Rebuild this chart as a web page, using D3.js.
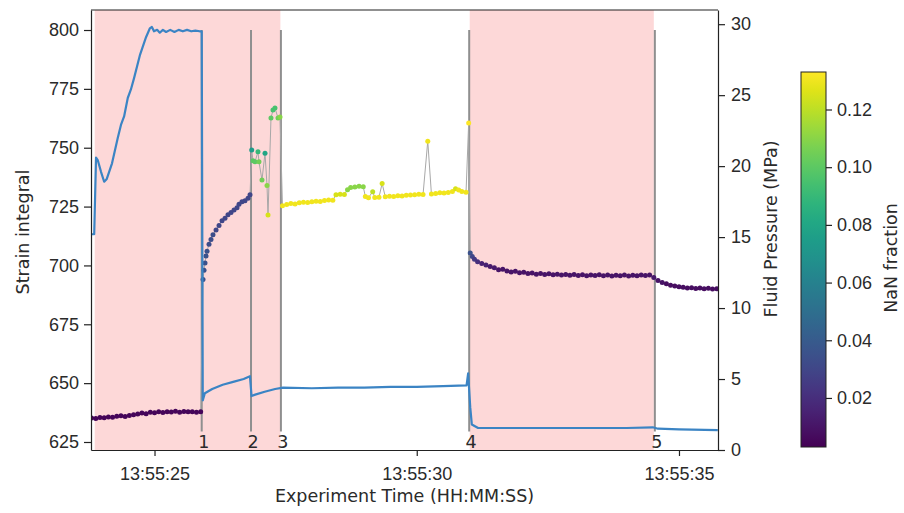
<!DOCTYPE html>
<html>
<head>
<meta charset="utf-8">
<script src="https://cdn.jsdelivr.net/npm/d3@7"></script>
<style>
  body { margin: 0; background: #fff; }
  svg { font-family: "DejaVu Sans", sans-serif; }
  .axis text { font-size: 18px; fill: #2a2a2a; }
  .axis path, .axis line { stroke: #222; stroke-width: 1.2px; }
  .label { font-size: 17.5px; fill: #2a2a2a; }
</style>
</head>
<body>
<svg width="904" height="513"></svg>
<script>
/* data: times are seconds after 13:55:00 */

// shaded intervals [start, end]
var spans = [[23.86, 27.40], [31.01, 34.52]];

// numbered event markers
var eventIds = ["1", "2", "3", "4", "5"];
var eventTimes = [25.90, 26.84, 27.41, 31.00, 34.54];

// fluid pressure (MPa), right axis: [t, p]
var pressure = [
  [23.80, 15.2], [23.85, 15.2], [23.885, 20.6], [23.92, 20.4], [23.98, 19.6],
  [24.04, 18.9], [24.09, 19.1], [24.19, 20.2], [24.30, 22.0], [24.36, 22.9],
  [24.42, 23.5], [24.49, 24.8], [24.55, 25.4], [24.61, 26.2], [24.72, 27.8],
  [24.84, 29.1], [24.91, 29.7], [24.95, 29.8], [24.99, 29.5], [25.05, 29.6],
  [25.10, 29.4], [25.16, 29.6], [25.22, 29.45], [25.30, 29.6], [25.38, 29.45],
  [25.46, 29.6], [25.54, 29.5], [25.62, 29.6], [25.70, 29.5], [25.78, 29.55],
  [25.86, 29.5], [25.90, 29.5], [25.92, 3.5], [25.96, 4.0], [26.10, 4.3],
  [26.30, 4.6], [26.50, 4.8], [26.70, 5.0], [26.82, 5.2], [26.85, 3.8],
  [26.92, 3.9], [27.10, 4.1], [27.30, 4.3], [27.45, 4.4], [28.00, 4.35],
  [28.50, 4.4], [29.00, 4.4], [29.50, 4.45], [30.00, 4.45], [30.50, 4.5],
  [30.95, 4.55], [30.98, 5.4], [31.02, 3.0], [31.05, 1.8], [31.17, 1.55],
  [32.00, 1.55], [33.00, 1.55], [34.00, 1.55], [34.50, 1.6], [34.60, 1.5],
  [35.00, 1.45], [35.74, 1.4]
];

// strain integral, left axis, coloured by NaN fraction: [t, strain, nan]
var strainA = [
  [23.80, 635.2, 0.005], [23.88, 635.0, 0.005], [23.96, 635.4, 0.005], [24.04, 635.3, 0.005],
  [24.12, 635.6, 0.005], [24.20, 635.5, 0.005], [24.28, 635.9, 0.005], [24.36, 636.1, 0.005],
  [24.44, 635.8, 0.005], [24.52, 636.3, 0.005], [24.60, 636.6, 0.005], [24.68, 636.9, 0.005],
  [24.76, 637.3, 0.005], [24.84, 637.0, 0.005], [24.92, 637.6, 0.005], [25.00, 637.4, 0.005],
  [25.08, 637.8, 0.005], [25.16, 637.5, 0.005], [25.24, 637.9, 0.005], [25.32, 637.7, 0.005],
  [25.40, 638.1, 0.005], [25.48, 637.6, 0.005], [25.56, 638.0, 0.005], [25.64, 637.8, 0.005],
  [25.72, 637.9, 0.005], [25.80, 637.6, 0.005], [25.88, 637.9, 0.005]
];

var strainB = [
  [25.925, 694, 0.035], [25.944, 698, 0.035], [25.963, 701, 0.035], [25.982, 704, 0.035],
  [26.001, 706, 0.035], [26.039, 709, 0.033], [26.077, 711, 0.033], [26.115, 713, 0.033],
  [26.173, 715, 0.03], [26.230, 717, 0.03], [26.287, 719, 0.03], [26.344, 720, 0.03],
  [26.401, 721.5, 0.03], [26.459, 722.5, 0.03], [26.516, 723.5, 0.03], [26.573, 724.5, 0.03],
  [26.611, 726, 0.03], [26.668, 727, 0.03], [26.725, 727.5, 0.03], [26.783, 728.5, 0.03],
  [26.821, 730, 0.03]
];

var strainC = [
  [26.853, 749, 0.075], [26.878, 744.5, 0.10], [26.916, 744, 0.10], [26.973, 748.3, 0.09],
  [26.992, 744, 0.105], [27.049, 736.3, 0.105], [27.107, 747.7, 0.08], [27.145, 734, 0.11],
  [27.164, 721.4, 0.125], [27.221, 762.6, 0.10], [27.259, 766, 0.095], [27.297, 766.9, 0.095],
  [27.355, 762.6, 0.105], [27.393, 763, 0.11]
];

var strainD = [
  [27.44, 725.4, 0.13], [27.52, 725.9, 0.13], [27.60, 726.3, 0.13], [27.68, 726.1, 0.13],
  [27.76, 726.6, 0.13], [27.84, 726.8, 0.13], [27.92, 726.7, 0.13], [28.00, 727.1, 0.13],
  [28.08, 727.3, 0.13], [28.16, 727.2, 0.13], [28.24, 727.6, 0.13], [28.32, 727.8, 0.13],
  [28.40, 727.7, 0.13], [28.46, 730.0, 0.125], [28.54, 730.2, 0.125], [28.62, 730.1, 0.125],
  [28.68, 732.2, 0.11], [28.74, 733.1, 0.11], [28.82, 733.3, 0.11], [28.90, 733.6, 0.11],
  [28.98, 733.4, 0.11], [29.02, 729.3, 0.13], [29.08, 728.8, 0.13], [29.16, 731.3, 0.12],
  [29.20, 728.9, 0.13], [29.28, 729.0, 0.13], [29.34, 734.8, 0.125], [29.40, 729.2, 0.13],
  [29.48, 729.4, 0.13], [29.56, 729.3, 0.13], [29.64, 729.6, 0.13], [29.72, 729.5, 0.13],
  [29.80, 729.8, 0.13], [29.88, 729.9, 0.13], [29.96, 730.0, 0.13], [30.04, 730.2, 0.13],
  [30.12, 730.1, 0.13], [30.21, 752.8, 0.13], [30.28, 730.3, 0.13], [30.36, 730.6, 0.13],
  [30.44, 730.9, 0.13], [30.52, 730.8, 0.13], [30.60, 731.0, 0.13], [30.68, 731.4, 0.13],
  [30.74, 732.6, 0.125], [30.80, 732.0, 0.13], [30.86, 731.4, 0.13], [30.94, 731.1, 0.13],
  [30.99, 760.5, 0.133]
];

var strainE = [
  [31.02, 705.3, 0.035], [31.06, 703.8, 0.03], [31.10, 702.6, 0.025], [31.16, 701.6, 0.02],
  [31.24, 700.8, 0.015], [31.32, 700.2, 0.015], [31.40, 699.5, 0.012], [31.48, 699.0, 0.012],
  [31.56, 698.2, 0.01], [31.64, 698.4, 0.01], [31.72, 697.6, 0.01], [31.80, 697.2, 0.01],
  [31.88, 697.5, 0.01], [31.96, 696.9, 0.01], [32.04, 697.1, 0.01], [32.12, 696.6, 0.01],
  [32.20, 696.8, 0.01], [32.28, 696.3, 0.01], [32.36, 696.6, 0.01], [32.44, 696.2, 0.01],
  [32.52, 696.5, 0.01], [32.60, 696.0, 0.01], [32.68, 696.3, 0.01], [32.76, 695.9, 0.01],
  [32.84, 696.2, 0.01], [32.92, 695.8, 0.01], [33.00, 696.1, 0.01], [33.08, 695.7, 0.01],
  [33.16, 696.0, 0.01], [33.24, 695.6, 0.01], [33.32, 695.9, 0.01], [33.40, 695.7, 0.01],
  [33.48, 696.0, 0.01], [33.56, 695.6, 0.01], [33.64, 695.9, 0.01], [33.72, 695.5, 0.01],
  [33.80, 695.8, 0.01], [33.88, 695.6, 0.01], [33.96, 695.9, 0.01], [34.04, 695.5, 0.01],
  [34.12, 695.8, 0.01], [34.20, 695.6, 0.01], [34.28, 695.9, 0.01], [34.36, 695.7, 0.01],
  [34.44, 695.9, 0.01], [34.52, 694.9, 0.012], [34.60, 693.6, 0.01], [34.68, 692.8, 0.01],
  [34.76, 692.2, 0.008], [34.84, 691.6, 0.008], [34.92, 691.3, 0.008], [35.00, 690.9, 0.008],
  [35.08, 690.7, 0.008], [35.16, 690.4, 0.008], [35.24, 690.5, 0.008], [35.32, 690.2, 0.008],
  [35.40, 690.4, 0.008], [35.48, 690.1, 0.008], [35.56, 690.3, 0.008], [35.64, 690.0, 0.008],
  [35.72, 690.1, 0.008]
];

var strainTicks = [625, 650, 675, 700, 725, 750, 775, 800];
var pressureTicks = [0, 5, 10, 15, 20, 25, 30];
var nanTicks = [0.02, 0.04, 0.06, 0.08, 0.10, 0.12];

/* set up */
var svg = d3.select("svg");
var plot = {left: 91, right: 718, top: 10, bottom: 450};

function ts(s) { return new Date(2020, 0, 1, 13, 55, 0, Math.round(s * 1000)); }

var x = d3.scaleTime().domain([ts(23.789), ts(35.744)]).range([plot.left, plot.right]),
    yL = d3.scaleLinear().domain([621.6, 808.5]).range([plot.bottom, plot.top]),
    yR = d3.scaleLinear().domain([0, 31.0]).range([plot.bottom, plot.top]),
    color = d3.scaleSequential(d3.interpolateViridis).domain([0.003, 0.133]);

var strain = strainA.concat(strainB, strainC, strainD, strainE);

// clip to plot
svg.append("clipPath").attr("id", "clip")
  .append("rect")
  .attr("x", plot.left).attr("y", plot.top)
  .attr("width", plot.right - plot.left).attr("height", plot.bottom - plot.top);

var g = svg.append("g").attr("clip-path", "url(#clip)");

// shaded spans
g.selectAll(".span")
  .data(spans)
  .enter().append("rect")
  .attr("class", "span")
  .attr("x", function (d) { return x(ts(d[0])); })
  .attr("width", function (d) { return x(ts(d[1])) - x(ts(d[0])); })
  .attr("y", plot.top)
  .attr("height", plot.bottom - plot.top)
  .attr("fill", "#fdd8d8");

// event lines
g.selectAll(".event")
  .data(eventTimes)
  .enter().append("line")
  .attr("class", "event")
  .attr("x1", function (d) { return x(ts(d)); })
  .attr("x2", function (d) { return x(ts(d)); })
  .attr("y1", yL(800))
  .attr("y2", yL(629.5))
  .attr("stroke", "#8f8f8f")
  .attr("stroke-width", 2);

svg.selectAll(".eventLabel")
  .data(eventIds)
  .enter().append("text")
  .attr("class", "label")
  .attr("x", function (d, i) { return x(ts(eventTimes[i])) + 2; })
  .attr("y", yL(622.6))
  .attr("text-anchor", "middle")
  .text(function (d) { return d; });

// strain: grey connector + coloured points
var strainLine = d3.line()
  .x(function (d) { return x(ts(d[0])); })
  .y(function (d) { return yL(d[1]); });

g.append("path")
  .datum(strain)
  .attr("d", strainLine)
  .attr("fill", "none")
  .attr("stroke", "#a8a8a8")
  .attr("stroke-width", 1);

g.selectAll(".pt")
  .data(strain)
  .enter().append("circle")
  .attr("class", "pt")
  .attr("cx", function (d) { return x(ts(d[0])); })
  .attr("cy", function (d) { return yL(d[1]); })
  .attr("r", 2.5)
  .attr("fill", function (d) { return color(d[2]); });

// pressure line on top (twin axis)
var pLine = d3.line()
  .x(function (d) { return x(ts(d[0])); })
  .y(function (d) { return yR(d[1]); });

g.append("path")
  .datum(pressure)
  .attr("d", pLine)
  .attr("fill", "none")
  .attr("stroke", "#3b84c4")
  .attr("stroke-width", 2.2)
  .attr("stroke-linejoin", "round");

/* axes */
svg.append("g")
  .attr("class", "axis")
  .attr("transform", "translate(" + plot.left + ",0)")
  .call(d3.axisLeft(yL).tickValues(strainTicks).tickSize(7).tickPadding(5).tickSizeOuter(0));

svg.append("g")
  .attr("class", "axis")
  .attr("transform", "translate(" + plot.right + ",0)")
  .call(d3.axisRight(yR).tickValues(pressureTicks).tickSize(7).tickPadding(6).tickSizeOuter(0));

svg.append("g")
  .attr("class", "axis")
  .attr("transform", "translate(0," + plot.bottom + ")")
  .call(d3.axisBottom(x).ticks(d3.timeSecond.every(5)).tickFormat(d3.timeFormat("%H:%M:%S"))
    .tickSize(6).tickPadding(11).tickSizeOuter(0));

svg.append("line")
  .attr("x1", plot.left).attr("x2", plot.right)
  .attr("y1", plot.top).attr("y2", plot.top)
  .attr("stroke", "#222").attr("stroke-width", 1.2);

// axis titles
svg.append("text").attr("class", "label")
  .attr("transform", "translate(23,232) rotate(-90)")
  .attr("text-anchor", "middle").attr("dy", "0.35em")
  .text("Strain integral");

svg.append("text").attr("class", "label")
  .attr("transform", "translate(771,229) rotate(-90)")
  .attr("text-anchor", "middle").attr("dy", "0.35em")
  .text("Fluid Pressure (MPa)");

svg.append("text").attr("class", "label")
  .attr("x", (plot.left + plot.right) / 2).attr("y", 502)
  .attr("text-anchor", "middle")
  .text("Experiment Time (HH:MM:SS)");

/* colorbar */
var cb = {x: 801, w: 25, top: 72, bottom: 447};
var cbScale = d3.scaleLinear().domain(color.domain()).range([cb.bottom, cb.top]);

var grad = svg.append("defs").append("linearGradient")
  .attr("id", "viridis")
  .attr("x1", "0").attr("y1", "1").attr("x2", "0").attr("y2", "0");
grad.selectAll("stop")
  .data(d3.range(0, 1.0001, 0.05))
  .enter().append("stop")
  .attr("offset", function (d) { return d; })
  .attr("stop-color", function (d) { return d3.interpolateViridis(d); });

svg.append("rect")
  .attr("x", cb.x).attr("y", cb.top)
  .attr("width", cb.w).attr("height", cb.bottom - cb.top)
  .attr("fill", "url(#viridis)")
  .attr("stroke", "#222").attr("stroke-width", 1);

svg.append("g")
  .attr("class", "axis")
  .attr("transform", "translate(" + (cb.x + cb.w) + ",0)")
  .call(d3.axisRight(cbScale).tickValues(nanTicks).tickFormat(d3.format(".2f"))
    .tickSize(6).tickPadding(5).tickSizeOuter(0))
  .call(function (a) { a.select(".domain").remove(); });

svg.append("text").attr("class", "label")
  .attr("transform", "translate(891,258) rotate(-90)")
  .attr("text-anchor", "middle").attr("dy", "0.35em")
  .text("NaN fraction");
</script>
</body>
</html>
